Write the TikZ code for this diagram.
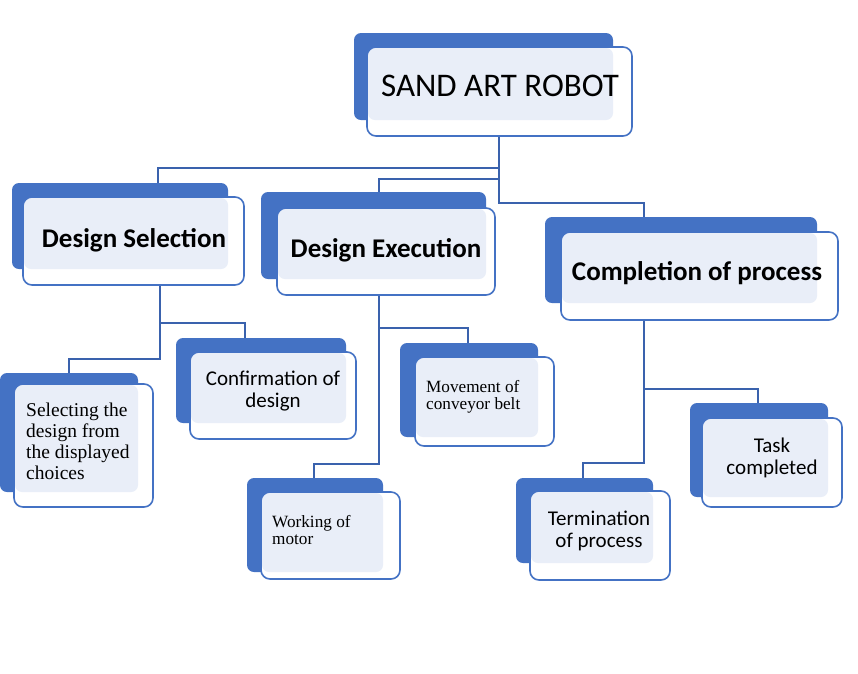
\documentclass[tikz,border=0pt]{standalone}
\usepackage{fontspec}
\setmainfont{Liberation Serif}
\newfontfamily\calfont{Carlito}
\usetikzlibrary{fit,backgrounds}
\definecolor{acc}{HTML}{4472C4}
\definecolor{lightf}{HTML}{E9EEF8}
\definecolor{lineC}{HTML}{3A62AD}
\tikzset{
  x=1pt, y=-1pt,
  backbox/.style={fill=acc, draw=none, rounded corners=7pt, inner sep=0pt},
  frontfill/.style={fill=white, draw=none, rounded corners=9pt, inner sep=0pt},
  frontline/.style={draw=acc, line width=1.6pt, fill=none, rounded corners=9pt, inner sep=0pt},
  conn/.style={draw=lineC, line width=2pt},
  head/.style={font=\calfont\bfseries\fontsize{27}{30}\selectfont, text=black, align=center},
  sans/.style={font=\calfont\fontsize{21}{22}\selectfont, text=black, align=center},
  serifbig/.style={font=\fontsize{19.5}{21}\selectfont, text=black, align=left, anchor=west, inner sep=0pt},
  serifsmall/.style={font=\fontsize{17.2}{17}\selectfont, text=black, align=left, anchor=west, inner sep=0pt},
}
% #1 name, #2-#5 back box, #6-#9 front box
\newcommand{\smbox}[9]{%
  \node[backbox, fit={(#2,#3)(#4,#5)}] (#1B) {};
  \node[frontfill, fit={(#6,#7)(#8,#9)}] (#1F) {};
  \fill[lightf, rounded corners=7pt] (#6+1,#7+1) rectangle (#4,#5);
  \node[frontline, fit={(#6,#7)(#8,#9)}] {};
}
\begin{document}
\begin{tikzpicture}
\useasboundingbox (0,0) rectangle (858,673);

% title
\smbox{t}{354}{33}{613}{120}{367}{47}{632}{136}
\node[font=\calfont\fontsize{33}{40}\selectfont] (title) at (500,86) {SAND ART ROBOT};

% level 1
\smbox{ds}{12}{183}{228}{269}{23}{197}{244}{285}
\node[head] (dstext) at (134,240) {Design Selection};
\smbox{de}{261}{192}{486}{279}{277}{208}{495}{295}
\node[head] (detext) at (386,250) {Design Execution};
\smbox{cp}{545}{217}{817}{303}{561}{232}{838}{320}
\node[head] (cptext) at (697,273) {Completion of process};

% level 2
\smbox{sel}{0}{373}{138}{492}{14}{384}{153}{507}
\node[serifbig] (seltext) at (26,441) {Selecting the\\design from\\the displayed\\choices};
\smbox{cf}{176}{338}{346}{423}{190}{352}{356}{439}
\node[sans] (cftext) at (273,391) {Confirmation of\\design};
\smbox{mv}{400}{343}{538}{437}{415}{357}{554}{446}
\node[serifsmall] (mvtext) at (426,397) {Movement of\\conveyor belt};
\smbox{wm}{247}{478}{383}{572}{261}{492}{400}{579}
\node[serifsmall] (wmtext) at (272,530) {Working of\\motor};
\smbox{tm}{516}{478}{653}{563}{530}{491}{670}{580}
\node[sans] (tmtext) at (599,531) {Termination\\of process};
\smbox{tk}{690}{403}{828}{497}{702}{418}{842}{507}
\node[sans] (tktext) at (772,458) {Task\\completed};

\begin{scope}[on background layer]
  \fill[white] (0,0) rectangle (858,673);
  \draw[conn] (tF.south -| 499,0) -- (499,168) -| (dsB.north -| 158,0);
  \draw[conn] (499,168) -- (499,179) -| (deB.north -| 379,0);
  \draw[conn] (499,179) -- (499,203) -| (cpB.north -| 644,0);

  \draw[conn] (dsF.south -| 160,0) -- (160,323) -| (cfB.north -| 245,0);
  \draw[conn] (160,323) -- (160,359) -| (selB.north -| 69,0);

  \draw[conn] (deF.south -| 379,0) -- (379,328) -| (mvB.north -| 468,0);
  \draw[conn] (379,328) -- (379,464) -| (wmB.north -| 314,0);

  \draw[conn] (cpF.south -| 644,0) -- (644,389) -| (tkB.north -| 758,0);
  \draw[conn] (644,389) -- (644,463) -| (tmB.north -| 583,0);
\end{scope}
\end{tikzpicture}
\end{document}
